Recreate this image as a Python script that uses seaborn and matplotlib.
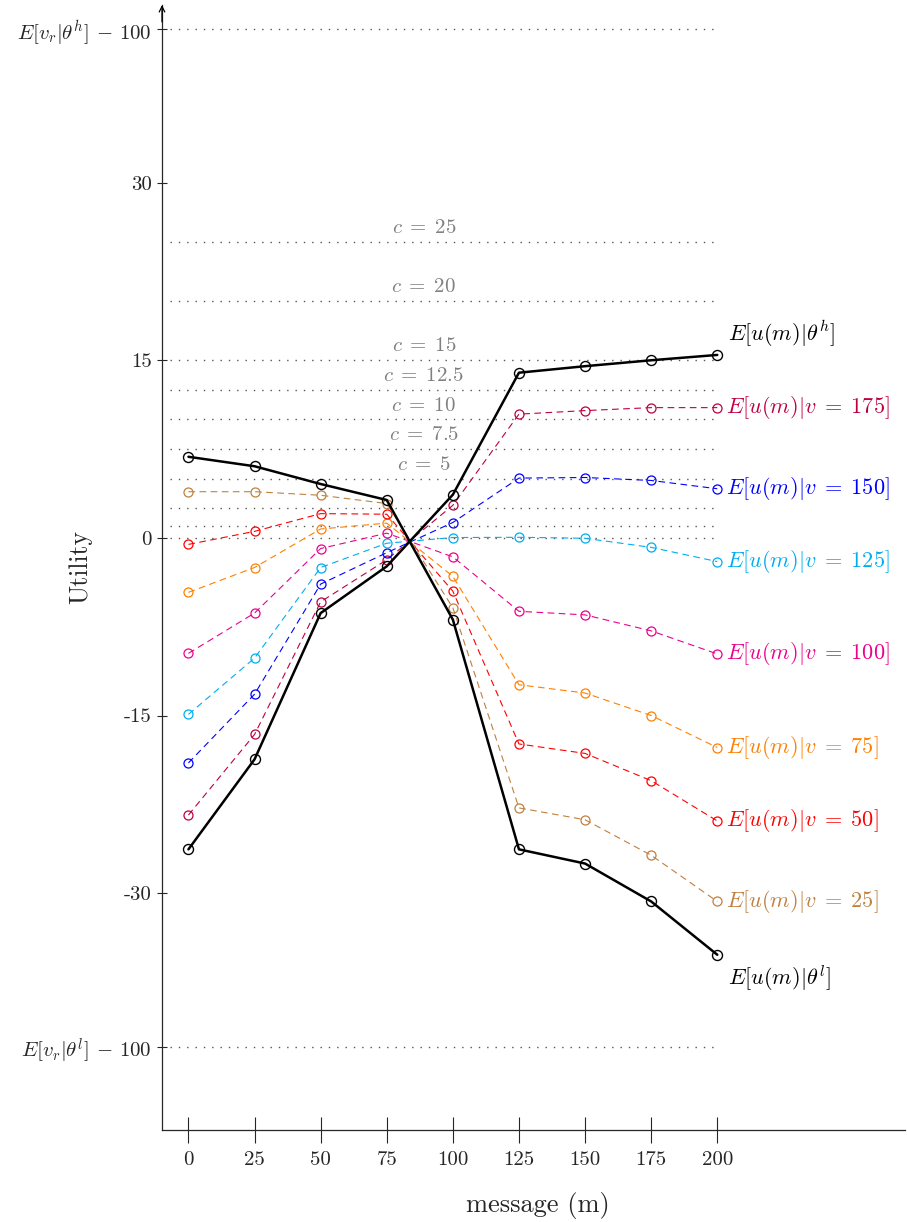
import matplotlib
matplotlib.use("Agg")
import matplotlib.pyplot as plt
import seaborn as sns
import pandas as pd

# ---------------- data ----------------
messages = [0, 25, 50, 75, 100, 125, 150, 175, 200]

u_theta_h = [-26.3, -18.7, -6.35, -2.4, 3.65, 13.95, 14.5, 15.0, 15.45]
u_theta_l = [6.85, 6.05, 4.55, 3.2, -6.9, -26.3, -27.5, -30.7, -35.2]

u_v175 = [-23.4, -16.6, -5.4, -1.85, 2.75, 10.45, 10.75, 11.0, 11.0]
u_v150 = [-19.0, -13.2, -3.9, -1.25, 1.3, 5.05, 5.1, 4.85, 4.15]
u_v125 = [-14.9, -10.15, -2.5, -0.45, 0.03, 0.05, -0.03, -0.8, -2.0]
u_v100 = [-9.75, -6.35, -0.9, 0.4, -1.6, -6.2, -6.5, -7.85, -9.8]
u_v75 = [-4.6, -2.5, 0.75, 1.25, -3.25, -12.4, -13.1, -15.0, -17.7]
u_v50 = [-0.55, 0.55, 2.05, 2.0, -4.5, -17.4, -18.2, -20.5, -23.9]
u_v25 = [3.9, 3.9, 3.6, 2.9, -5.9, -22.8, -23.8, -26.8, -30.7]

v_names = ["175", "150", "125", "100", "75", "50", "25"]
v_series = [u_v175, u_v150, u_v125, u_v100, u_v75, u_v50, u_v25]
v_colors = ["#bf0040", "#0000ff", "#00aeef", "#ec008c", "#ff8000", "#ff0000", "#bf8040"]

c_levels = [0, 1, 2.5, 5, 7.5, 10, 12.5, 15, 20, 25]
c_labels = ["", "", "", "5", "7.5", "10", "12.5", "15", "20", "25"]
bound_levels = [43, -43]

ytick_values = [-43, -30, -15, 0, 15, 30, 43]
ytick_labels = [r"$E[v_r|\theta^l]\,-\,100$", "-30", "-15", "0", "15", "30",
                r"$E[v_r|\theta^h]\,-\,100$"]

# ---------------- style ----------------
sns.set_style("ticks")
plt.rcParams["mathtext.fontset"] = "cm"
plt.rcParams["font.family"] = ["cmr10", "DejaVu Serif"]
plt.rcParams["axes.unicode_minus"] = False
plt.rcParams["axes.formatter.use_mathtext"] = True

fig = plt.figure(figsize=(9.07, 12.22), dpi=100)
ax = fig.add_axes([162 / 907, 92 / 1222, 743 / 907, 1125 / 1222])

# reference (dotted) lines
ax.hlines(c_levels + bound_levels, xmin=-7, xmax=200, colors="#555555",
          linestyles=(0, (1, 5)), linewidth=1.0, zorder=1)
for lvl, lab in zip(c_levels, c_labels):
    if lab:
        ax.annotate(rf"$c\;=\;{lab}$", xy=(89, lvl), xytext=(0, 3.5),
                    textcoords="offset points", ha="center", va="bottom",
                    color="#808080", fontsize=15)

# coloured dashed series
for name, vals, col in zip(v_names, v_series, v_colors):
    df = pd.DataFrame({"m": messages, "u": vals})
    sns.lineplot(data=df, x="m", y="u", ax=ax, color=col, linewidth=0.8,
                 linestyle=(0, (6, 4)), marker="o", markersize=6.5,
                 markerfacecolor="none", markeredgecolor=col,
                 markeredgewidth=0.9, zorder=3, sort=False)
    ax.annotate(rf"$E[u(m)|v\;=\;{name}]$", xy=(200, vals[-1]), xytext=(6, 0),
                textcoords="offset points", ha="left", va="center",
                color=col, fontsize=16)

# black type lines
for vals, lab, dy in [(u_theta_h, r"$E[u(m)|\theta^h]$", 15),
                      (u_theta_l, r"$E[u(m)|\theta^l]$", -16.5)]:
    df = pd.DataFrame({"m": messages, "u": vals})
    sns.lineplot(data=df, x="m", y="u", ax=ax, color="black", linewidth=1.8,
                 marker="o", markersize=7.2, markerfacecolor="none",
                 markeredgecolor="black", markeredgewidth=1.0, zorder=4,
                 sort=False)
    ax.annotate(lab, xy=(200, vals[-1]), xytext=(8, dy),
                textcoords="offset points", ha="left", va="center",
                color="black", fontsize=16)

# axes
ax.set_xlim(-10, 271)
ax.set_ylim(-50, 45)
ax.set_xticks(messages)
ax.set_xticklabels([str(m) for m in messages], fontsize=15)
ax.set_yticks(ytick_values)
ax.set_yticklabels(ytick_labels, fontsize=15)
ax.tick_params(axis="x", direction="inout", length=19, width=0.8, pad=6)
ax.tick_params(axis="y", direction="inout", length=7, width=0.8, pad=4)

for s in ["top", "right"]:
    ax.spines[s].set_visible(False)
for s in ["left", "bottom"]:
    ax.spines[s].set_linewidth(0.9)

ax.annotate("", xy=(0, 1.0), xycoords="axes fraction", xytext=(0, 0.985),
            arrowprops=dict(arrowstyle="->", lw=0.9, color="black",
                            shrinkA=0, shrinkB=0))

ax.set_xlabel("message (m)", fontsize=19)
ax.set_ylabel("Utility", fontsize=18.5)
ax.xaxis.set_label_coords(0.506, -0.055)
ax.yaxis.set_label_coords(-0.094, 0.5)

fig.savefig("out.png", dpi=100)
